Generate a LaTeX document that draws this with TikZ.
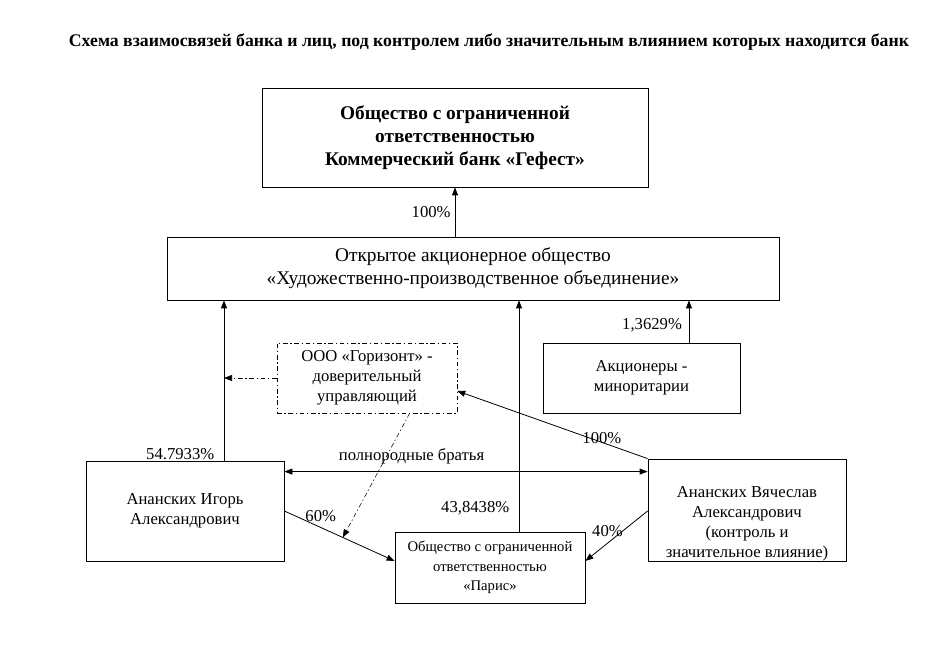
\documentclass[tikz,border=0pt]{standalone}
\usepackage{fontspec}
\setmainfont{Liberation Serif}
\usetikzlibrary{positioning, calc, arrows.meta}

\begin{document}
\begin{tikzpicture}[
      x=0.75pt, y=-0.75pt,
      font=\fontsize{12.5}{15}\selectfont,
      arr/.style={-{Triangle[length=6pt, width=4.5pt]}, semithick},
      dashdot/.style={dash pattern=on 3.5pt off 2pt on 1pt off 2pt},
      org/.style={draw, semithick, align=center, inner sep=2pt},
      big/.style={font=\fontsize{14.5}{17}\selectfont},
      pct/.style={inner sep=1pt}
    ]
      \useasboundingbox (0,0) rectangle (951,648);
      \node[font=\fontsize{13.3}{15}\selectfont\bfseries] (title) at (489,42)
        {Схема взаимосвязей банка и лиц, под контролем либо значительным влиянием которых находится банк};

      % Bank and its owner
      \node[org, minimum width=289.5pt, minimum height=74.25pt, font=\fontsize{14.5}{17}\selectfont\bfseries] (bank) at (455,137.5)
        {Общество с ограниченной\\ответственностью\\Коммерческий банк «Гефест»};
      \node[org, big, minimum width=459pt, minimum height=47.25pt] (hpo) at (473,268.5)
        {Открытое акционерное общество\\«Художественно-производственное объединение»};
      \draw[arr] (hpo.north -| bank.south) -- node[pct, left=2pt] {100\%} (bank.south);

      % Middle row
      \node[org, dashdot, thin, minimum width=135pt, minimum height=52.5pt] (horizon) at (367,378)
        {ООО «Горизонт» -\\доверительный\\управляющий};
      \node[org, minimum width=147.75pt, minimum height=52.5pt] (minor) at (641.5,378)
        {Акционеры -\\миноритарии};

      % Persons and Paris
      \node[org, minimum width=148.5pt, minimum height=75pt] (igor) at (185,511)
        {Ананских Игорь\\Александрович};
      \node[org, minimum width=148.5pt, minimum height=76.5pt] (vyach) at (747,510) {};
      \node[align=center, inner sep=0pt] (vyachtxt) at ([yshift=-10.5pt]vyach.center)
        {Ананских Вячеслав\\Александрович\\(контроль и\\значительное влияние)};
      \node[org, minimum width=142.5pt, minimum height=53.25pt, font=\fontsize{11}{14.5}\selectfont] (paris) at (490,567.5)
        {Общество с ограниченной\\ответственностью\\«Парис»};

      % Shares in hpo
      \coordinate (igorup) at ([xshift=29.25pt]igor.north);
      \draw[arr] (igorup) -- node[pct, pos=0, above left=-1pt and 6pt] {54.7933\%} (igorup |- hpo.south);
      \coordinate (parisup) at ([xshift=21.75pt]paris.north);
      \draw[arr] (parisup) -- node[pct, pos=0.1, left=6pt] {43,8438\%} (parisup |- hpo.south);
      \coordinate (minorup) at ([xshift=35.6pt]minor.north);
      \draw[arr] (minorup) -- node[pct, pos=0.4, left=4pt] {1,3629\%} (minorup |- hpo.south);

      % Trust manager
      \draw[arr, dashdot, thin] (horizon.west) -- (horizon.west -| igorup);
      \draw[arr] (vyach.north west) -- node[pct, pos=0.24, above=-2pt] {100\%} ([yshift=-9.75pt]horizon.east);

      % Brothers
      \draw[{Triangle[length=6pt, width=4.5pt]}-{Triangle[length=6pt, width=4.5pt]}, semithick]
        ([yshift=-8.25pt]igor.north east) -- node[pct, above=4pt, pos=0.35] {полнородные братья}
        ([yshift=-8.25pt]igor.north east -| vyach.west);

      % Paris owners
      \draw[arr] (igor.east) -- node[pct, pos=0.33, above=3pt] {60\%} coordinate[pos=0.53] (on60) ([yshift=4.9pt]paris.west);
      \draw[arr] ([yshift=-0.75pt]vyach.west) -- node[pct, pos=0.5, above left=-2pt and -6pt] {40\%} ([yshift=4.9pt]paris.east);
      \draw[arr, dashdot, thin] ([xshift=32pt]horizon.south) -- (on60);
    \end{tikzpicture}
\end{document}
